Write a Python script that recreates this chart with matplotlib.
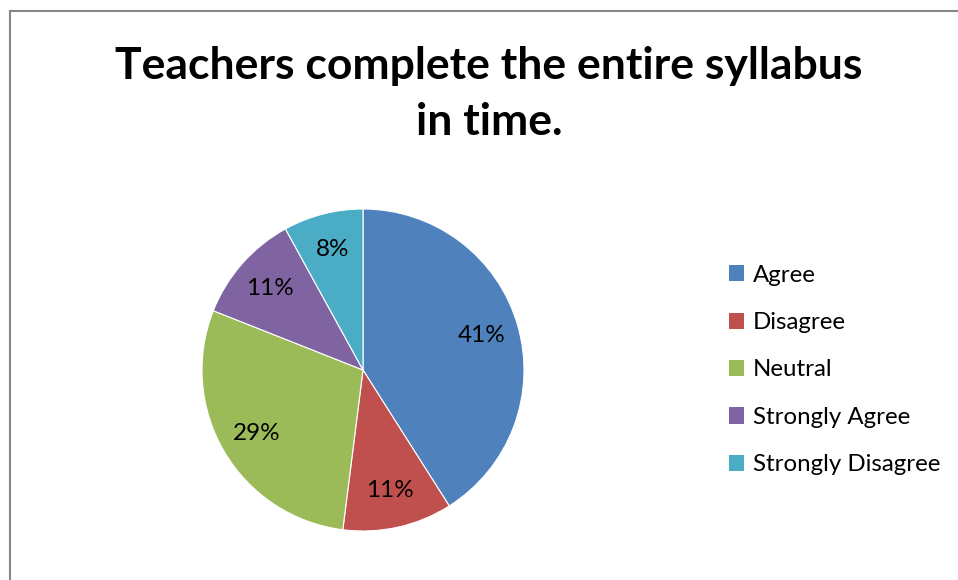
import matplotlib.pyplot as plt
from matplotlib.lines import Line2D
from matplotlib.patches import Patch

# data
labels = ['Agree', 'Disagree', 'Neutral', 'Strongly Agree', 'Strongly Disagree']
values = [41, 11, 29, 11, 8]
colors = ['#4F81BD', '#C0504D', '#9BBB59', '#8064A2', '#4BACC6']
title = 'Teachers complete the entire syllabus\nin time.'

W, H = 958, 580
fig = plt.figure(figsize=(W / 100, H / 100), dpi=100)
fig.patch.set_facecolor('white')

# pie, centred at about (363, 370) px with radius 161 px
cx, cy, r = 363, 370, 161
ax = fig.add_axes([(cx - r) / W, (H - cy - r) / H, 2 * r / W, 2 * r / H])
wedges, texts, autotexts = ax.pie(
    values, colors=colors, startangle=90, counterclock=False,
    autopct='%.0f%%', pctdistance=0.77,
    wedgeprops=dict(edgecolor='white', linewidth=0.8),
    textprops=dict(fontsize=17.5, family='Lato', color='black'))
ax.set_xlim(-1, 1)
ax.set_ylim(-1, 1)
ax.set_aspect('equal')
ax.axis('off')

fig.text(489 / W, 1 - 94 / H, title, ha='center', va='center',
         fontsize=32, fontweight='bold', family='Lato', linespacing=1.5)

handles = [Patch(facecolor=c, edgecolor='none') for c in colors]
fig.legend(handles, labels, loc='center left', bbox_to_anchor=(707 / W, 1 - 370 / H),
           frameon=False, prop=dict(family='Lato', size=17.3),
           handlelength=0.65, handleheight=0.65, handletextpad=0.35, labelspacing=1.1)

# grey chart border (left and top, runs off the image)
fig.add_artist(Line2D([9.5 / W, 9.5 / W], [0, 1 - 11 / H], color='#878787', linewidth=1.5))
fig.add_artist(Line2D([9.5 / W, 1], [1 - 11 / H, 1 - 11 / H], color='#878787', linewidth=1.5))

fig.savefig('out.png', dpi=100)
